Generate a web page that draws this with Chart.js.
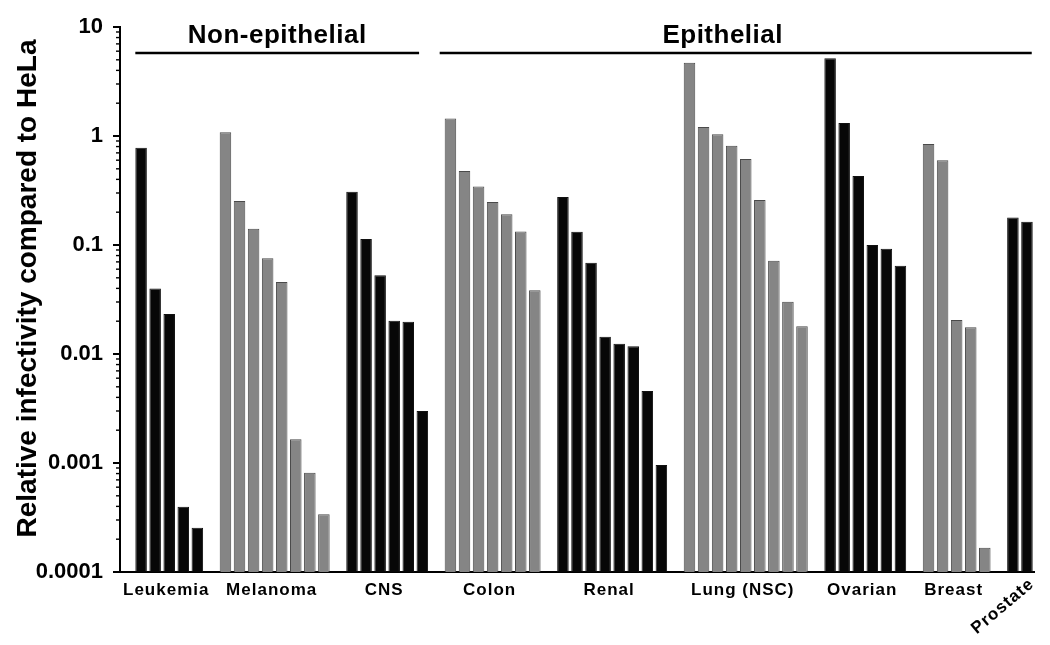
<!DOCTYPE html>
<html>
<head>
<meta charset="utf-8">
<script src="https://cdn.jsdelivr.net/npm/chart.js@4.4.1/dist/chart.umd.min.js"></script>
<style>
  body { margin: 0; background: #fff; }
  #wrap { width: 1050px; height: 645px; }
</style>
</head>
<body>
<div id="wrap"><canvas id="chart" width="1050" height="645"></canvas></div>
<script>
// Relative infectivity per cell line, grouped by tissue
const leukemia = [0.78, 0.040, 0.0233, 0.000397, 0.000255];
const melanoma = [1.08, 0.253, 0.141, 0.0755, 0.0458, 0.00165, 0.000815, 0.000338];
const cns = [0.308, 0.1135, 0.0527, 0.0202, 0.0198, 0.0030];
const colon = [1.45, 0.477, 0.345, 0.248, 0.191, 0.133, 0.0384];
const renal = [0.275, 0.1324, 0.0689, 0.01442, 0.01242, 0.01175, 0.00458, 0.00096];
const lungNSC = [4.7, 1.21, 1.035, 0.815, 0.615, 0.259, 0.0718, 0.0302, 0.01795];
const ovarian = [5.16, 1.316, 0.43, 0.100, 0.0925, 0.0646];
const breast = [0.845, 0.598, 0.0205, 0.0176, 0.000167];
const prostate = [0.179, 0.1637];

const groupNames = ["Leukemia", "Melanoma", "CNS", "Colon", "Renal", "Lung (NSC)", "Ovarian", "Breast", "Prostate"];
const groupValues = [leukemia, melanoma, cns, colon, renal, lungNSC, ovarian, breast, prostate];
const groupDark = [true, false, true, false, true, false, true, false, true];

const yTickValues = [0.0001, 0.001, 0.01, 0.1, 1, 10];
const yTickLabels = ["0.0001", "0.001", "0.01", "0.1", "1", "10"];
const yTitle = "Relative infectivity compared to HeLa";
const headerNon = "Non-epithelial";
const headerEpi = "Epithelial";

const FONT = 'Arial, "Liberation Sans", Helvetica, sans-serif';
const BLACK = "#070707";
const GREY = "#858585";

// build one slot per bar, with an empty slot before each group
const labels = [];
const values = [];
const fills = [];
const borders = [];
const groupStart = [];
const groupEnd = [];

groupValues.forEach((vals, g) => {
    labels.push("");
    values.push(null);
    fills.push("#fff");
    borders.push("#fff");
    groupStart.push(labels.length);
    vals.forEach((v, j) => {
        labels.push(groupNames[g] + " " + (j + 1));
        values.push(v);
        fills.push(groupDark[g] ? BLACK : GREY);
        borders.push(groupDark[g] ? "#111" : "#4a4a4a");
    });
    groupEnd.push(labels.length - 1);
});

// extra drawing: minor ticks, headers, group labels, axis title
const decorations = {
    id: "decorations",
    afterDraw(chart) {
        const ctx = chart.ctx;
        const x = chart.scales.x;
        const y = chart.scales.y;
        const area = chart.chartArea;
        const half = x.getPixelForValue(1) - x.getPixelForValue(0);
        const barHalf = half * 0.82 / 2;

        ctx.save();
        ctx.strokeStyle = "#000";

        // log ticks on the y axis
        for (let e = -4; e <= 1; e++) {
            const major = Math.pow(10, e);
            let py = y.getPixelForValue(major);
            ctx.lineWidth = 2;
            ctx.beginPath();
            ctx.moveTo(area.left - 7, py);
            ctx.lineTo(area.left, py);
            ctx.stroke();
            if (e === 1) break;
            ctx.lineWidth = 1.4;
            for (let k = 2; k <= 9; k++) {
                py = y.getPixelForValue(k * major);
                ctx.beginPath();
                ctx.moveTo(area.left - 4, py);
                ctx.lineTo(area.left, py);
                ctx.stroke();
            }
        }

        // group headers with lines
        const lineY = area.top + 26;
        const nonL = x.getPixelForValue(groupStart[0]) - barHalf;
        const nonR = x.getPixelForValue(groupEnd[2]) + barHalf - 9;
        const epiL = x.getPixelForValue(groupStart[3]) - barHalf - 5;
        const epiR = x.getPixelForValue(groupEnd[8]) + barHalf - 1;
        ctx.lineWidth = 2.5;
        ctx.beginPath();
        ctx.moveTo(nonL, lineY);
        ctx.lineTo(nonR, lineY);
        ctx.moveTo(epiL, lineY);
        ctx.lineTo(epiR, lineY);
        ctx.stroke();

        ctx.fillStyle = "#000";
        ctx.font = "bold 26px " + FONT;
        ctx.textAlign = "center";
        ctx.textBaseline = "alphabetic";
        ctx.letterSpacing = "0.5px";
        ctx.fillText(headerNon, (nonL + nonR) / 2, area.top + 16);
        ctx.fillText(headerEpi, (epiL + epiR) / 2 - 13, area.top + 16);

        // group labels under the axis
        ctx.font = "bold 17px " + FONT;
        ctx.letterSpacing = "1px";
        ctx.textBaseline = "middle";
        groupNames.forEach((name, g) => {
            const cx = (x.getPixelForValue(groupStart[g]) + x.getPixelForValue(groupEnd[g])) / 2;
            if (g === groupNames.length - 1) {
                ctx.save();
                ctx.translate(cx + 12, area.bottom + 10);
                ctx.rotate(-40 * Math.PI / 180);
                ctx.textAlign = "right";
                ctx.fillText(name, 0, 0);
                ctx.restore();
            } else {
                ctx.fillText(name, cx - 3, area.bottom + 18);
            }
        });

        // y axis title
        ctx.letterSpacing = "0px";
        ctx.font = "bold 28px " + FONT;
        ctx.translate(28, (area.top + area.bottom) / 2 - 11);
        ctx.rotate(-Math.PI / 2);
        ctx.textAlign = "center";
        ctx.fillText(yTitle, 0, 0);
        ctx.restore();
    }
};

new Chart(document.getElementById("chart"), {
    type: "bar",
    data: {
        labels: labels,
        datasets: [{
            data: values,
            backgroundColor: fills,
            borderColor: borders,
            borderWidth: 1,
            barPercentage: 0.82,
            categoryPercentage: 1
        }]
    },
    options: {
        responsive: false,
        animation: false,
        layout: { padding: { top: 27, right: 16, left: 0, bottom: 0 } },
        plugins: {
            legend: { display: false },
            tooltip: { enabled: false }
        },
        scales: {
            x: {
                grid: { display: false },
                ticks: { display: false },
                border: { display: true, color: "#000", width: 2 },
                afterFit: (scale) => { scale.height = 73; }
            },
            y: {
                type: "logarithmic",
                min: 0.0001,
                max: 10,
                grid: { display: false },
                border: { display: true, color: "#000", width: 2 },
                afterBuildTicks: (scale) => {
                    scale.ticks = yTickValues.map((v) => ({ value: v }));
                },
                afterFit: (scale) => { scale.width = 120; },
                ticks: {
                    padding: 9,
                    color: "#000",
                    font: { family: FONT, size: 22, weight: "bold" },
                    callback: (v) => {
                        const i = yTickValues.indexOf(v);
                        return i >= 0 ? yTickLabels[i] : "";
                    }
                }
            }
        }
    },
    plugins: [decorations]
});
</script>
</body>
</html>
